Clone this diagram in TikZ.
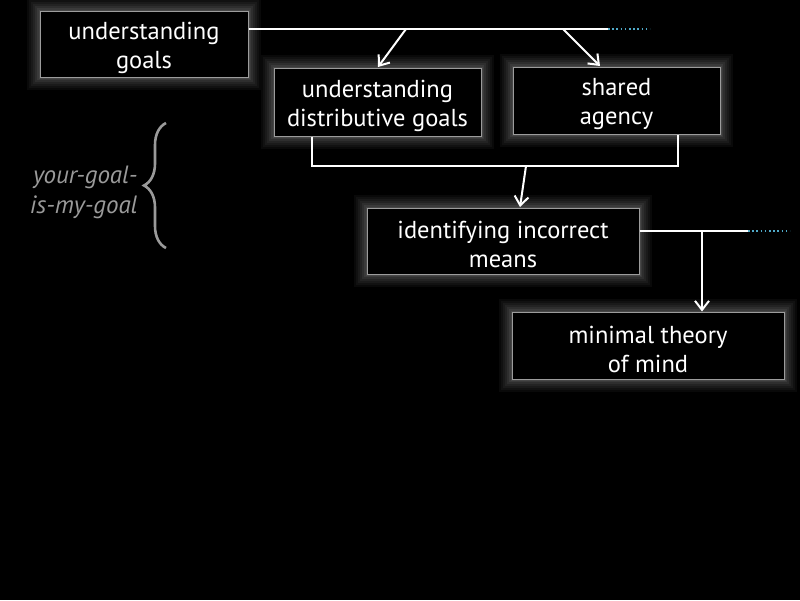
\documentclass[tikz,border=0pt]{standalone}
\usepackage{fontspec}
\setmainfont{PT Sans}
\usetikzlibrary{arrows.meta,decorations.pathreplacing}
\definecolor{boxline}{HTML}{9C9C9C}
\definecolor{dotcol}{HTML}{4FA9C8}
\definecolor{bracecol}{HTML}{9A9A9A}
\newcommand\lowerfirst{\rule{0pt}{24.5pt}}
\tikzset{
  box/.style={draw=boxline, line width=1pt, fill=black, text=white, align=center,
    font=\fontsize{24.5}{29}\selectfont, inner sep=0pt,
    preaction={draw=white, draw opacity=0.035, line width=26pt},
    preaction={draw=white, draw opacity=0.035, line width=22pt},
    preaction={draw=white, draw opacity=0.04, line width=18pt},
    preaction={draw=white, draw opacity=0.045, line width=14pt},
    preaction={draw=white, draw opacity=0.05, line width=10pt},
    preaction={draw=white, draw opacity=0.06, line width=6pt},
    preaction={draw=white, draw opacity=0.07, line width=3pt}},
  conn/.style={draw=white, line width=2pt},
  arr/.style={conn, -{Straight Barb[length=9pt,width=14pt,line width=2pt]}},
  dots/.style={draw=dotcol, line width=1.6pt, dash pattern=on 1.6pt off 2.6pt},
  note/.style={text=bracecol, align=right, font=\fontsize{25}{30}\selectfont\itshape}
}
\begin{document}
\begin{tikzpicture}[x=1pt,y=-1pt]
\fill[black] (0,0) rectangle (800,600);
\useasboundingbox (0,0) rectangle (800,600);

\node[box, minimum width=208, minimum height=66] (g) at (144,44) {\lowerfirst understanding\\goals};
\node[box, minimum width=207, minimum height=68] (d) at (377.5,102) {\lowerfirst understanding\\distributive goals};
\node[box, minimum width=207, minimum height=67] (s) at (616.5,100.5) {\lowerfirst shared\\agency};
\node[box, minimum width=272, minimum height=66] (m) at (503,241) {\lowerfirst identifying incorrect\\means};
\node[box, minimum width=272, minimum height=67] (t) at (648,345.5) {\lowerfirst minimal theory\\of mind};

% top line
\coordinate (t1) at (608,29);
\coordinate (t2) at (650,29);
\coordinate (a1) at (406,29);
\coordinate (a2) at (563,29);
\draw[conn] (g.east |- t1) -- (t1);
\draw[dots] (t1) -- (t2);
\draw[arr] (a1) -- (378,67);
\draw[arr] (a2) -- (600,66);

% join from d and s
\coordinate (j1) at (312,166);
\coordinate (j2) at (678,166);
\coordinate (j3) at (526,166);
\draw[conn] (d.south -| j1) -- (j1) -- (j2) -- (s.south -| j2);
\draw[arr] (j3) -- (520,207);

% from m
\coordinate (r1) at (748,231);
\coordinate (r2) at (790,231);
\coordinate (r3) at (702,231);
\draw[conn] (m.east |- r1) -- (r1);
\draw[dots] (r1) -- (r2);
\draw[arr] (r3) -- (t.north -| r3);

% brace and note
\draw[bracecol, line width=2.6pt, decorate, decoration={brace, amplitude=22pt, aspect=0.5}]
  (166,248) -- (166,123);
\node[note, anchor=east] (n) at (141,192) {your-goal-\\is-my-goal};
\end{tikzpicture}
\end{document}
